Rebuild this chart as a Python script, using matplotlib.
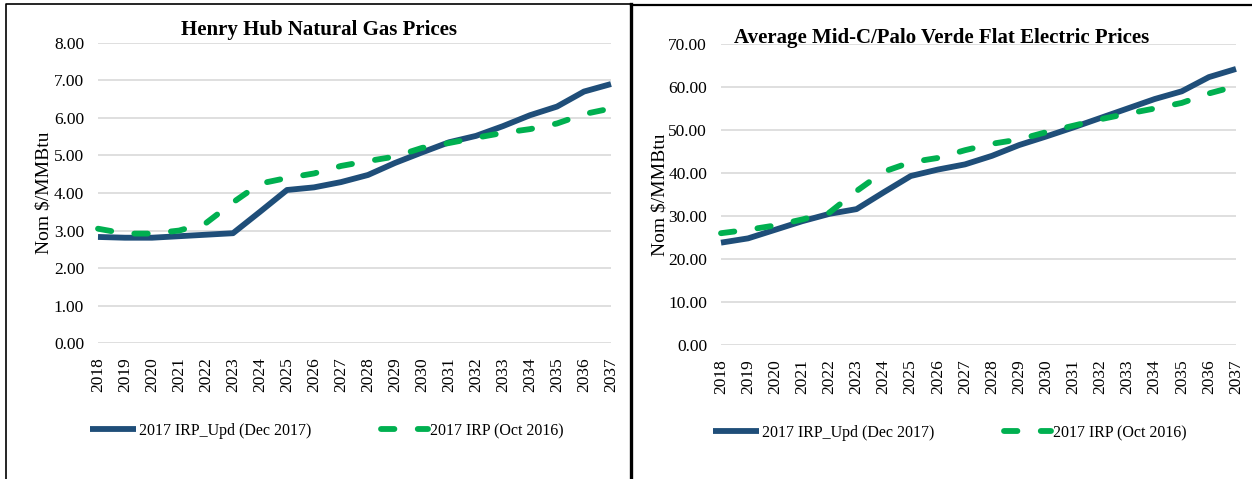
import matplotlib
matplotlib.use('Agg')
from matplotlib import pyplot as plt
from matplotlib.lines import Line2D

years = list(range(2018, 2038))

gas_dec2017 = [2.83, 2.81, 2.81, 2.85, 2.89, 2.93, 3.50, 4.08, 4.15, 4.29,
               4.48, 4.80, 5.08, 5.35, 5.52, 5.78, 6.07, 6.30, 6.70, 6.90]
gas_oct2016 = [3.05, 2.92, 2.92, 3.00, 3.20, 3.75, 4.25, 4.40, 4.52, 4.72,
               4.85, 4.97, 5.20, 5.33, 5.47, 5.60, 5.70, 5.85, 6.10, 6.25]

elec_dec2017 = [23.8, 24.8, 26.8, 28.8, 30.5, 31.6, 35.5, 39.3, 40.8, 42.0,
                44.0, 46.5, 48.5, 50.6, 52.8, 55.0, 57.2, 59.0, 62.3, 64.2]
elec_oct2016 = [26.0, 26.8, 27.8, 29.2, 30.8, 35.8, 40.3, 42.5, 43.5, 45.3,
                46.8, 47.8, 49.5, 51.0, 52.5, 53.8, 55.0, 56.3, 58.5, 60.2]

series_names = ['2017 IRP_Upd (Dec 2017)', '2017 IRP (Oct 2016)']
titles = ['Henry Hub Natural Gas Prices', 'Average Mid-C/Palo Verde Flat Electric Prices']
ylabel = 'Nom $/MMBtu'

blue = '#1F4E79'
green = '#00B050'
W, H = 1252, 479

plt.rcParams['font.family'] = ['Liberation Serif', 'DejaVu Serif']

fig = plt.figure(figsize=(W / 100, H / 100), dpi=100)


def px(x, y):
    return (x / W, 1 - y / H)


def box(x0, y0, x1, y1):
    l, b = px(x0, y1)
    r, t = px(x1, y0)
    return [l, b, r - l, t - b]


def panel(rect, dec, octo, ymax, ystep, title, title_xy, ylab_xy, leg_xy):
    ax = fig.add_axes(rect)
    ax.plot(years, dec, color=blue, lw=4.2, solid_capstyle='butt', clip_on=False,
            label=series_names[0], zorder=3)
    ax.plot(years, octo, color=green, lw=4.2, dashes=(2.3, 4.0), dash_capstyle='round',
            clip_on=False, label=series_names[1], zorder=4)
    ax.set_xlim(2018, 2037)
    ax.set_ylim(0, ymax)
    ax.set_xticks(years)
    ax.set_xticklabels([str(y) for y in years], rotation=90)
    ax.set_yticks([i * ystep for i in range(int(ymax / ystep) + 1)])
    ax.set_yticklabels(['%.2f' % (i * ystep) for i in range(int(ymax / ystep) + 1)])
    ax.tick_params(length=0, labelsize=12.5)
    ax.tick_params(axis='y', pad=10)
    ax.tick_params(axis='x', pad=10)
    for s in ax.spines.values():
        s.set_visible(False)
    ax.grid(axis='y', color='#D9D9D9', lw=1.2)
    ax.set_axisbelow(True)
    fig.text(*px(*title_xy), title, ha='center', va='center', fontsize=15, fontweight='bold')
    fig.text(*px(*ylab_xy), ylabel, ha='center', va='center', rotation=90, fontsize=14)
    ax.legend(loc='center left', bbox_to_anchor=px(*leg_xy), bbox_transform=fig.transFigure,
              ncol=2, frameon=False, fontsize=11.5, handlelength=2.9, handletextpad=0.15,
              columnspacing=4.4, borderpad=0, borderaxespad=0)
    return ax


panel(box(98, 42.7, 611, 343.3), gas_dec2017, gas_oct2016, 8, 1, titles[0],
      (319, 30), (44, 193), (90, 431))
panel(box(721, 44, 1236, 345), elec_dec2017, elec_oct2016, 70, 10, titles[1],
      (942, 38), (660, 195), (713, 433))

# panel borders
def border(xs, ys, lw):
    pts = [px(x, y) for x, y in zip(xs, ys)]
    fig.add_artist(Line2D([p[0] for p in pts], [p[1] for p in pts], color='black',
                          lw=lw, transform=fig.transFigure))

border([6, 6, 631], [H, 3.5, 3.5], 1.2)
border([631, 631], [4, H], 2.4)
border([631, W], [5, 5], 1.6)

fig.savefig('out.png', dpi=100)
